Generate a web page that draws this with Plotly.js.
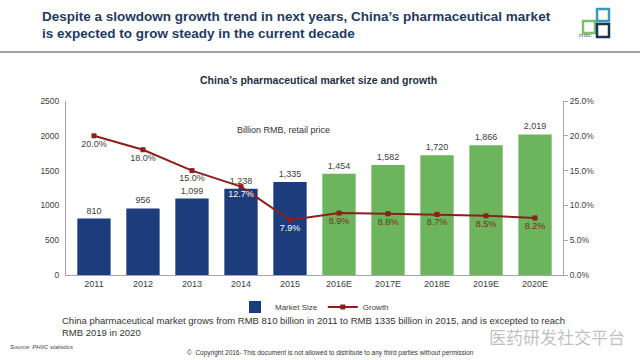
<!DOCTYPE html>
<html><head><meta charset="utf-8">
<script src="https://cdn.plot.ly/plotly-3.0.1.min.js"></script>
<style>html,body{margin:0;padding:0;background:#fff;}#chart{width:640px;height:360px;}</style>
</head><body><div id="chart"></div>
<script>
const categories = ['2011','2012','2013','2014','2015','2016E','2017E','2018E','2019E','2020E'];
const marketSize = [810, 956, 1099, 1238, 1335, 1454, 1582, 1720, 1866, 2019];
const marketLabels = ['810','956','1,099','1,238','1,335','1,454','1,582','1,720','1,866','2,019'];
const growth = [20.0, 18.0, 15.0, 12.7, 7.9, 8.9, 8.8, 8.7, 8.5, 8.2];
const growthLabels = ['20.0%','18.0%','15.0%','12.7%','7.9%','8.9%','8.8%','8.7%','8.5%','8.2%'];

const navy = '#1d3c7c', green = '#6db55c', red = '#8b1f1f';
const barColors = categories.map(c => c.endsWith('E') ? green : navy);
const growthTextColors = growth.map((g,i) => i < 3 ? '#404040' : (i < 5 ? '#ffffff' : '#7a2a1a'));

const L = 66, R = 563, T = 101, B = 275;
const W = R - L, H = B - T;
const px = x => (x - L) / W;
const py = y => (B - y) / H;

const traces = [
  {type:'bar', name:'Market Size', x:categories, y:marketSize, marker:{color:barColors},
   text:marketLabels, textposition:'outside', textfont:{size:9, color:'#404040'}, cliponaxis:false,
   hoverinfo:'none'},
  {type:'scatter', mode:'lines+markers+text', name:'Growth', x:categories, y:growth, yaxis:'y2',
   line:{color:red, width:2}, marker:{symbol:'square', size:5, color:red},
   text:growthLabels, textposition:'bottom center', textfont:{size:9, color:growthTextColors},
   cliponaxis:false, hoverinfo:'none'}
];

const font = 'Liberation Sans, Arial, sans-serif';
const layout = {
  width:640, height:360, margin:{l:L, r:640-R, t:T, b:360-B},
  paper_bgcolor:'#fff', plot_bgcolor:'#fff',
  font:{family:font, size:9, color:'#404040'},
  showlegend:true,
  legend:{orientation:'h', x:0.5, xanchor:'center', y:py(307), yanchor:'middle', font:{size:8, color:'#404040'}, tracegroupgap:0, itemwidth:30},
  bargap:0.32,
  xaxis:{type:'category', showline:true, linecolor:'#a6a6a6', linewidth:1, ticks:'', tickfont:{size:9, color:'#404040'}, fixedrange:true, showgrid:false},
  yaxis:{range:[0,2500], dtick:500, showline:true, linecolor:'#a6a6a6', ticks:'', showgrid:false, zeroline:false, tickfont:{size:8.5, color:'#404040'}, ticklabelstandoff:4},
  yaxis2:{overlaying:'y', side:'right', range:[0,25], dtick:5, ticksuffix:'%', tickformat:'.1f', showline:true, linecolor:'#a6a6a6', ticks:'outside', ticklen:4, tickcolor:'#a6a6a6', showgrid:false, zeroline:false, tickfont:{size:8.5, color:'#404040'}},
  shapes:[
    {type:'line', xref:'paper', yref:'paper', x0:px(0), x1:px(640), y0:py(52), y1:py(52), line:{color:'#9aa3aa', width:2}},
    {type:'rect', xref:'paper', yref:'paper', x0:px(583), x1:px(595), y0:py(21), y1:py(33), line:{color:'#7fbf6a', width:2.5}, fillcolor:'rgba(0,0,0,0)'},
    {type:'rect', xref:'paper', yref:'paper', x0:px(597), x1:px(609), y0:py(9), y1:py(21), line:{color:'#3a9ab8', width:2.5}, fillcolor:'rgba(0,0,0,0)'},
    {type:'rect', xref:'paper', yref:'paper', x0:px(597), x1:px(609), y0:py(24), y1:py(37), line:{color:'#1b3550', width:2.5}, fillcolor:'rgba(0,0,0,0)'}
  ],
  annotations:[
    {xref:'paper', yref:'paper', x:px(40), y:py(16), xanchor:'left', yanchor:'middle', showarrow:false,
     text:'<b>Despite a slowdown growth trend in next years, China’s pharmaceutical market</b>', font:{size:13.5, color:'#1f3a5f', family:font}},
    {xref:'paper', yref:'paper', x:px(40), y:py(33), xanchor:'left', yanchor:'middle', showarrow:false,
     text:'<b>is expected to grow steady in the current decade</b>', font:{size:13.5, color:'#1f3a5f', family:font}},
    {xref:'paper', yref:'paper', x:px(586), y:py(36), xanchor:'center', yanchor:'middle', showarrow:false,
     text:'PHIIC', font:{size:5, color:'#333', family:'Liberation Serif, serif'}},
    {xref:'paper', yref:'paper', x:px(318), y:py(80), xanchor:'center', yanchor:'middle', showarrow:false,
     text:'<b>China’s pharmaceutical market size and growth</b>', font:{size:10.5, color:'#1f2f45', family:font}},
    {xref:'paper', yref:'paper', x:px(283), y:py(130), xanchor:'center', yanchor:'middle', showarrow:false,
     text:'Billion RMB, retail price', font:{size:9, color:'#333', family:font}},
    {xref:'paper', yref:'paper', x:px(60), y:py(320), xanchor:'left', yanchor:'middle', showarrow:false,
     text:'China pharmaceutical market grows from RMB 810 billion in 2011 to RMB 1335 billion in 2015, and is excepted to reach', font:{size:9.5, color:'#333', family:font}},
    {xref:'paper', yref:'paper', x:px(60), y:py(332), xanchor:'left', yanchor:'middle', showarrow:false,
     text:'RMB 2019 in 2020', font:{size:9.5, color:'#333', family:font}},
    {xref:'paper', yref:'paper', x:px(8), y:py(347), xanchor:'left', yanchor:'middle', showarrow:false,
     text:'<i>Source: PHIIC statistics</i>', font:{size:6, color:'#444', family:font}},
    {xref:'paper', yref:'paper', x:px(330), y:py(353), xanchor:'center', yanchor:'middle', showarrow:false,
     text:'©  Copyright 2016- This document is not allowed to distribute to any third parties without permission', font:{size:6.5, color:'#333', family:font}},
    {xref:'paper', yref:'paper', x:px(627), y:py(336), xanchor:'right', yanchor:'middle', showarrow:false,
     text:'医药研发社交平台', font:{size:17, color:'rgba(150,150,150,0.6)', family:'Noto Sans CJK SC'}}
  ]
};
Plotly.newPlot('chart', traces, layout, {displayModeBar:false, staticPlot:true});
</script></body></html>
